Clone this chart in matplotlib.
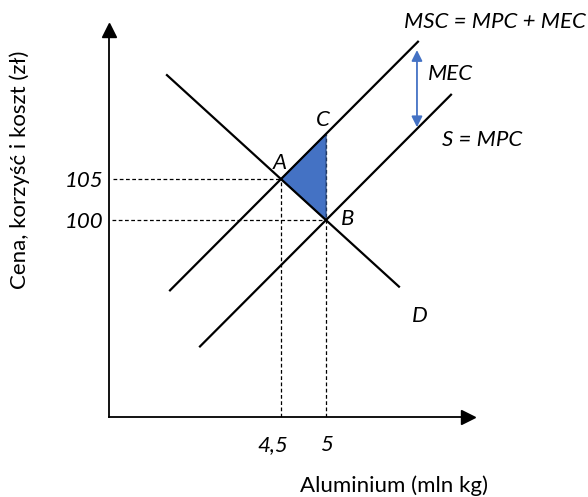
import numpy as np
import matplotlib
matplotlib.use("Agg")
import matplotlib.pyplot as plt
from matplotlib.transforms import ScaledTranslation

plt.rcParams['font.family'] = ['Lato', 'DejaVu Sans']

# equilibrium points (quantity in mln kg, price in zl)
q_a, p_a = 4.5, 105      # social optimum A
q_b, p_b = 5.0, 100      # market equilibrium B
mpc_slope = 11.0
mec = 10.5               # gap between MSC and MPC
p_c = p_b + mec          # point C on MSC above B

# curve end points (quantity range)
d_q = [3.233, 5.811]
msc_q = [3.267, 6.022]
mpc_q = [3.6, 6.389]
mec_q = 6.011

d_slope = (p_b - p_a) / (q_b - q_a)


def demand(q):
    return p_a + d_slope * (np.asarray(q) - q_a)


def mpc(q):
    return p_b + mpc_slope * (np.asarray(q) - q_b)


def msc(q):
    return mpc(q) + mec


x_min, x_max = 2.589, 6.578
y_min, y_max = 76.0, 123.17
fs = 16

fig = plt.figure(figsize=(5.88, 4.97), dpi=100)
ax = fig.add_axes([109/588, 80/497, (468-109)/588, (417-30)/497])
ax.set_xlim(x_min, x_max)
ax.set_ylim(y_min, y_max)
for s in ['top', 'right']:
    ax.spines[s].set_visible(False)
for s in ['left', 'bottom']:
    ax.spines[s].set_linewidth(1.3)
ax.plot(1, 0, '>k', ms=10, transform=ax.transAxes, clip_on=False)
ax.plot(0, 1, '^k', ms=10, transform=ax.transAxes, clip_on=False)

# dashed guides
dash = dict(color='black', lw=0.9, ls=(0, (3, 2)))
ax.plot([x_min + 0.05, q_a], [p_a, p_a], **dash)
ax.plot([x_min + 0.03, q_b], [p_b, p_b], **dash)
ax.plot([q_a, q_a], [y_min, p_a], **dash)
ax.plot([q_b, q_b], [y_min, p_c], **dash)

# deadweight loss triangle
ax.fill([q_a, q_b, q_b], [p_a, p_c, p_b], facecolor='#4472C4',
        edgecolor='#2F528F', lw=1, zorder=3)

# curves
ax.plot(d_q, demand(d_q), color='black', lw=1.6, zorder=4)
ax.plot(msc_q, msc(msc_q), color='black', lw=1.6, zorder=4)
ax.plot(mpc_q, mpc(mpc_q), color='black', lw=1.6, zorder=4)

# MEC arrow
ax.annotate('', xy=(mec_q, msc(mec_q) - 0.9), xytext=(mec_q, mpc(mec_q) + 0.2),
            arrowprops=dict(arrowstyle='<|-|>', color='#4472C4', lw=1.3,
                            mutation_scale=16, shrinkA=0, shrinkB=0),
            annotation_clip=False)

lab = dict(fontsize=fs, style='italic', ha='center', va='center', clip_on=False)
ax.text(6.878, 124.1, 'MSC = MPC + MEC', **lab)
ax.text(6.378, 117.8, 'MEC', **lab)
ax.text(6.733, 109.76, 'S = MPC', **lab)
ax.text(4.967, 112.2, 'C', **lab)
ax.text(5.244, 100.1, 'B', **lab)
ax.text(4.489, 106.95, 'A', **lab)
ax.text(6.044, 88.3, 'D', **lab)

ax.set_xticks([q_a, q_b])
ax.set_xticklabels(['4,5', '5'], fontsize=fs, style='italic')
ax.set_yticks([p_b, p_a])
ax.set_yticklabels(['100', '105'], fontsize=fs, style='italic')
ax.tick_params(length=0, pad=13)
ax.tick_params(axis='y', pad=4)
t = ax.get_xticklabels()[0]
t.set_transform(t.get_transform() + ScaledTranslation(-0.08, 0, fig.dpi_scale_trans))

fig.text(394/588, 1 - 486/497, 'Aluminium (mln kg)', fontsize=fs,
         ha='center', va='center')
fig.text(20/588, 1 - 170/497, 'Cena, korzyść i koszt (zł)', fontsize=fs,
         rotation=90, ha='center', va='center')

fig.savefig('out.png', dpi=100)
